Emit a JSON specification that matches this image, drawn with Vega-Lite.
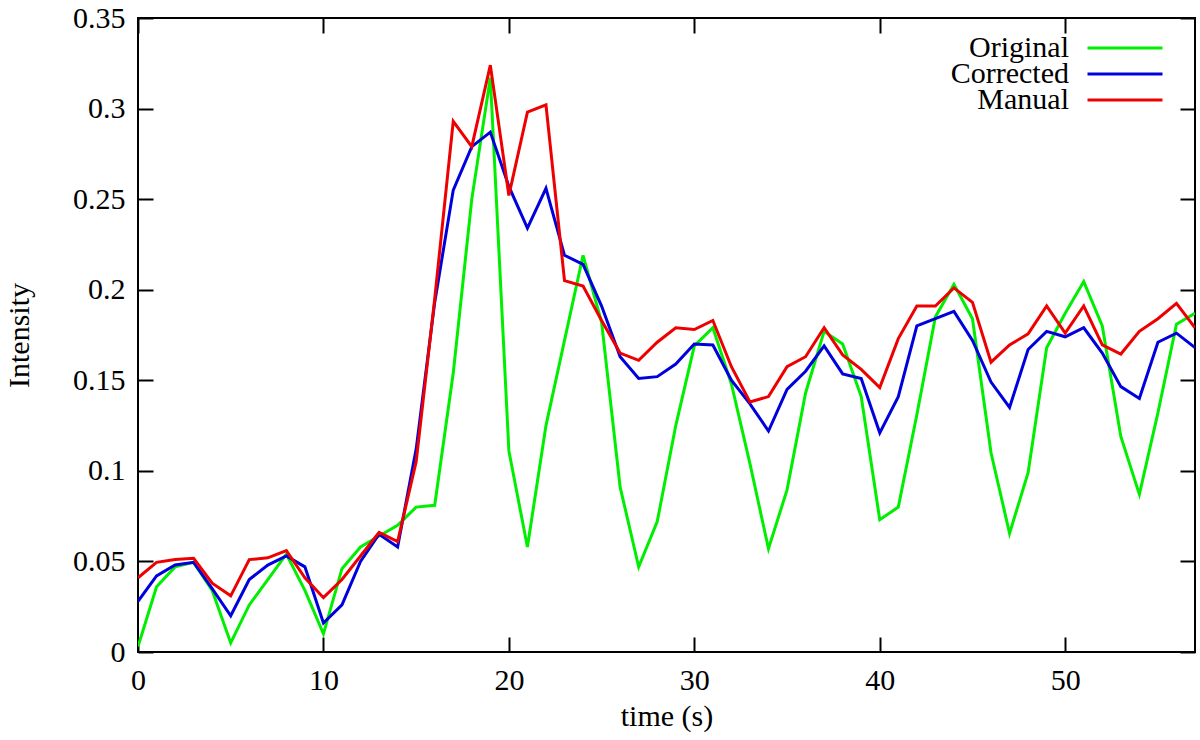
{
  "$schema": "https://vega.github.io/schema/vega-lite/v6.json",
  "width": 1057,
  "height": 634,
  "autosize": {"type": "none"},
  "padding": {"left": 138, "top": 18, "right": 5, "bottom": 88},
  "background": "white",
  "config": {
    "view": {"stroke": "black", "strokeWidth": 2},
    "font": "Liberation Serif",
    "axis": {"grid": false, "domain": false, "labelFont": "Liberation Serif", "titleFont": "Liberation Serif", "labelFontSize": 30, "titleFontSize": 30, "titleFontWeight": "normal", "labelColor": "black", "titleColor": "black", "tickColor": "black", "tickWidth": 2},
    "legend": {"orient": "none", "legendX": 972, "title": null, "padding": 0, "symbolType": "M-5,0H5", "symbolSize": 225, "symbolStrokeWidth": 3, "labelAlign": "right", "labelOffset": -71, "labelFontSize": 30, "labelFont": "Liberation Serif", "labelColor": "black", "labelLimit": 300}
  },
  "data": {
    "values": [
      {"t": 0, "Original": 0.003, "Corrected": 0.028, "Manual": 0.041},
      {"t": 1, "Original": 0.036, "Corrected": 0.042, "Manual": 0.0495},
      {"t": 2, "Original": 0.047, "Corrected": 0.048, "Manual": 0.051},
      {"t": 3, "Original": 0.0495, "Corrected": 0.0495, "Manual": 0.0517},
      {"t": 4, "Original": 0.034, "Corrected": 0.035, "Manual": 0.038},
      {"t": 5, "Original": 0.005, "Corrected": 0.02, "Manual": 0.031},
      {"t": 6, "Original": 0.026, "Corrected": 0.04, "Manual": 0.051},
      {"t": 7, "Original": 0.04, "Corrected": 0.048, "Manual": 0.052},
      {"t": 8, "Original": 0.054, "Corrected": 0.053, "Manual": 0.056},
      {"t": 9, "Original": 0.034, "Corrected": 0.047, "Manual": 0.041},
      {"t": 10, "Original": 0.01, "Corrected": 0.016, "Manual": 0.03},
      {"t": 11, "Original": 0.046, "Corrected": 0.026, "Manual": 0.04},
      {"t": 12, "Original": 0.058, "Corrected": 0.05, "Manual": 0.053},
      {"t": 13, "Original": 0.064, "Corrected": 0.065, "Manual": 0.066},
      {"t": 14, "Original": 0.07, "Corrected": 0.058, "Manual": 0.061},
      {"t": 15, "Original": 0.08, "Corrected": 0.112, "Manual": 0.105},
      {"t": 16, "Original": 0.081, "Corrected": 0.193, "Manual": 0.195},
      {"t": 17, "Original": 0.154, "Corrected": 0.255, "Manual": 0.293},
      {"t": 18, "Original": 0.25, "Corrected": 0.279, "Manual": 0.279},
      {"t": 19, "Original": 0.317, "Corrected": 0.287, "Manual": 0.324},
      {"t": 20, "Original": 0.111, "Corrected": 0.257, "Manual": 0.252},
      {"t": 21, "Original": 0.058, "Corrected": 0.234, "Manual": 0.298},
      {"t": 22, "Original": 0.125, "Corrected": 0.256, "Manual": 0.302},
      {"t": 23, "Original": 0.172, "Corrected": 0.219, "Manual": 0.205},
      {"t": 24, "Original": 0.219, "Corrected": 0.214, "Manual": 0.202},
      {"t": 25, "Original": 0.182, "Corrected": 0.191, "Manual": 0.183},
      {"t": 26, "Original": 0.091, "Corrected": 0.163, "Manual": 0.165},
      {"t": 27, "Original": 0.047, "Corrected": 0.151, "Manual": 0.161},
      {"t": 28, "Original": 0.072, "Corrected": 0.152, "Manual": 0.171},
      {"t": 29, "Original": 0.125, "Corrected": 0.159, "Manual": 0.179},
      {"t": 30, "Original": 0.169, "Corrected": 0.17, "Manual": 0.178},
      {"t": 31, "Original": 0.179, "Corrected": 0.1695, "Manual": 0.183},
      {"t": 32, "Original": 0.148, "Corrected": 0.15, "Manual": 0.1575},
      {"t": 33, "Original": 0.104, "Corrected": 0.137, "Manual": 0.138},
      {"t": 34, "Original": 0.057, "Corrected": 0.122, "Manual": 0.141},
      {"t": 35, "Original": 0.0895, "Corrected": 0.145, "Manual": 0.1575},
      {"t": 36, "Original": 0.143, "Corrected": 0.155, "Manual": 0.163},
      {"t": 37, "Original": 0.177, "Corrected": 0.169, "Manual": 0.179},
      {"t": 38, "Original": 0.17, "Corrected": 0.1535, "Manual": 0.164},
      {"t": 39, "Original": 0.141, "Corrected": 0.151, "Manual": 0.156},
      {"t": 40, "Original": 0.073, "Corrected": 0.121, "Manual": 0.146},
      {"t": 41, "Original": 0.08, "Corrected": 0.141, "Manual": 0.173},
      {"t": 42, "Original": 0.131, "Corrected": 0.18, "Manual": 0.191},
      {"t": 43, "Original": 0.185, "Corrected": 0.184, "Manual": 0.191},
      {"t": 44, "Original": 0.203, "Corrected": 0.188, "Manual": 0.201},
      {"t": 45, "Original": 0.184, "Corrected": 0.172, "Manual": 0.193},
      {"t": 46, "Original": 0.11, "Corrected": 0.149, "Manual": 0.16},
      {"t": 47, "Original": 0.0655, "Corrected": 0.135, "Manual": 0.1695},
      {"t": 48, "Original": 0.099, "Corrected": 0.167, "Manual": 0.1756},
      {"t": 49, "Original": 0.168, "Corrected": 0.177, "Manual": 0.191},
      {"t": 50, "Original": 0.187, "Corrected": 0.174, "Manual": 0.176},
      {"t": 51, "Original": 0.2045, "Corrected": 0.179, "Manual": 0.191},
      {"t": 52, "Original": 0.18, "Corrected": 0.165, "Manual": 0.1695},
      {"t": 53, "Original": 0.119, "Corrected": 0.1465, "Manual": 0.1645},
      {"t": 54, "Original": 0.087, "Corrected": 0.14, "Manual": 0.177},
      {"t": 55, "Original": 0.132, "Corrected": 0.171, "Manual": 0.184},
      {"t": 56, "Original": 0.181, "Corrected": 0.176, "Manual": 0.1925},
      {"t": 57, "Original": 0.187, "Corrected": 0.168, "Manual": 0.179}
    ]
  },
  "transform": [{"fold": ["Original", "Corrected", "Manual"], "as": ["series", "value"]}],
  "layer": [
    {
      "transform": [{"filter": "datum.series === 'Original'"}],
      "mark": {"type": "line", "strokeWidth": 3, "clip": true},
      "encoding": {
        "x": {"field": "t", "type": "quantitative", "scale": {"domain": [0, 57], "nice": false, "zero": false},
              "axis": {"orient": "bottom", "title": "time (s)", "values": [0, 10, 20, 30, 40, 50], "tickSize": -15, "labelPadding": 28, "titlePadding": 6, "labelFlush": false}},
        "y": {"field": "value", "type": "quantitative", "scale": {"domain": [0, 0.35], "nice": false},
              "axis": {"orient": "left", "title": "Intensity", "values": [0, 0.05, 0.1, 0.15, 0.2, 0.25, 0.3, 0.35], "format": ".2~f", "tickSize": -15, "labelPadding": 28, "titlePadding": 38, "labelFlush": false}},
        "color": {"field": "series", "type": "nominal", "scale": {"domain": ["Original"], "range": ["#00ee00"]}, "legend": {"legendY": 15}},
        "order": {"field": "t", "type": "quantitative"}
      }
    },
    {
      "transform": [{"filter": "datum.series === 'Corrected'"}],
      "mark": {"type": "line", "strokeWidth": 3, "clip": true},
      "encoding": {
        "x": {"field": "t", "type": "quantitative", "axis": null},
        "y": {"field": "value", "type": "quantitative", "axis": null},
        "color": {"field": "series", "type": "nominal", "scale": {"domain": ["Corrected"], "range": ["#0000dd"]}, "legend": {"legendY": 41}},
        "order": {"field": "t", "type": "quantitative"}
      }
    },
    {
      "transform": [{"filter": "datum.series === 'Manual'"}],
      "mark": {"type": "line", "strokeWidth": 3, "clip": true},
      "encoding": {
        "x": {"field": "t", "type": "quantitative", "axis": null},
        "y": {"field": "value", "type": "quantitative", "axis": null},
        "color": {"field": "series", "type": "nominal", "scale": {"domain": ["Manual"], "range": ["#ee0000"]}, "legend": {"legendY": 67}},
        "order": {"field": "t", "type": "quantitative"}
      }
    },
    {
      "mark": {"type": "point", "opacity": 0},
      "encoding": {
        "x": {"field": "t", "type": "quantitative",
              "axis": {"orient": "top", "title": null, "labels": false, "values": [0, 10, 20, 30, 40, 50], "tickSize": -15}},
        "y": {"field": "value", "type": "quantitative",
              "axis": {"orient": "right", "title": null, "labels": false, "values": [0, 0.05, 0.1, 0.15, 0.2, 0.25, 0.3, 0.35], "tickSize": -15}}
      }
    }
  ],
  "resolve": {"scale": {"color": "independent"}, "legend": {"color": "independent"}}
}
